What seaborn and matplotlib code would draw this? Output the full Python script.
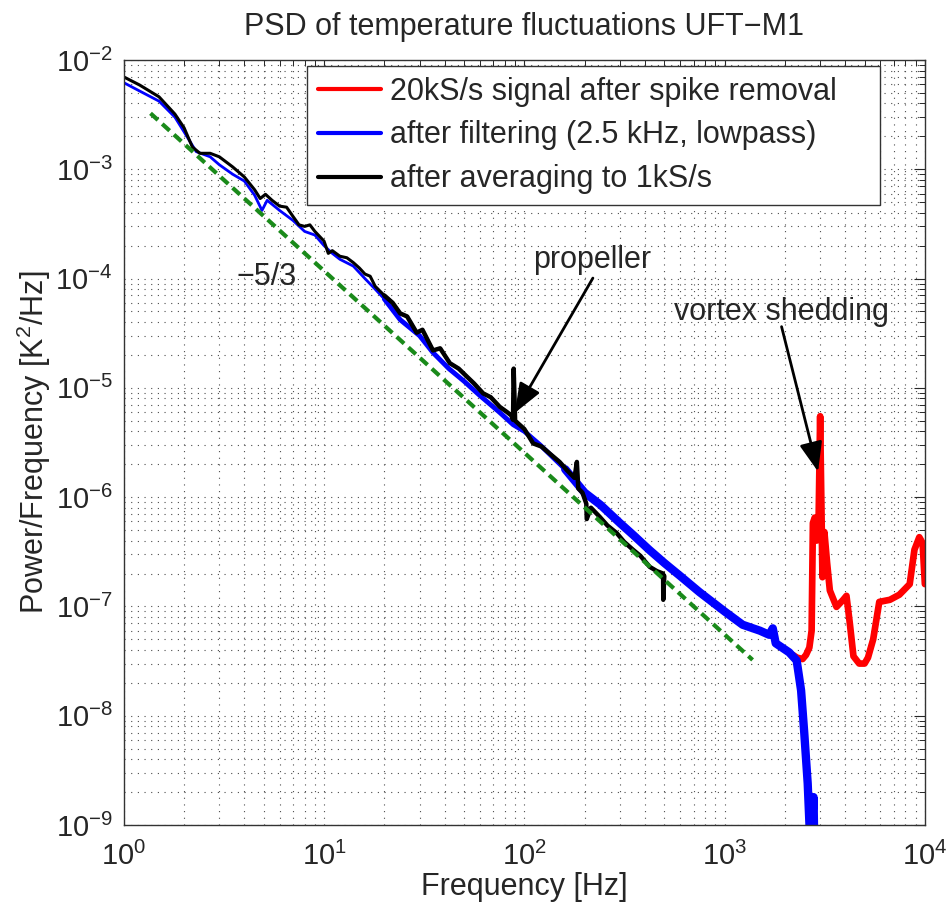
import matplotlib
matplotlib.use('Agg')
import matplotlib.pyplot as plt
import seaborn as sns
import pandas as pd

# spectra (freq in Hz, PSD in K^2/Hz)
f_avg = [1.0, 1.2, 1.5, 1.8, 2.0, 2.2, 2.4, 2.7, 3.0, 3.5, 4.0, 4.5, 4.8, 5.1, 5.5,
         6.0, 6.5, 7.0, 7.5, 8.0, 8.5, 9.0, 10, 10.5, 11, 12, 13, 14, 15, 16, 17, 18,
         20, 22, 24, 26, 29, 31, 35, 38, 42.5, 47, 51.6, 56, 62.3, 68, 75.4, 82, 86,
         87.8, 88.5, 90, 100, 110.7, 122, 134, 150, 163, 178, 183, 186, 195, 204, 205,
         215, 238, 260, 289, 315, 349, 380, 423, 460, 493, 494, 500]
p_avg = [7.0e-3, 5.9e-3, 4.6e-3, 3.2e-3, 2.4e-3, 1.6e-3, 1.4e-3, 1.4e-3, 1.3e-3,
         1.05e-3, 8.5e-4, 6.5e-4, 5.4e-4, 5.9e-4, 5.2e-4, 4.6e-4, 4.5e-4, 3.7e-4,
         3.1e-4, 3.0e-4, 3.1e-4, 2.7e-4, 2.2e-4, 1.7e-4, 1.8e-4, 1.6e-4, 1.55e-4,
         1.4e-4, 1.25e-4, 1.1e-4, 1.05e-4, 8.5e-5, 7.0e-5, 6.0e-5, 4.8e-5, 4.5e-5,
         3.2e-5, 3.4e-5, 2.2e-5, 2.3e-5, 1.68e-5, 1.5e-5, 1.27e-5, 1.1e-5, 8.9e-6,
         8.2e-6, 6.7e-6, 6.0e-6, 5.6e-6, 5.1e-6, 1.5e-5, 5.0e-6, 4.2e-6, 3.1e-6,
         2.9e-6, 2.5e-6, 2.1e-6, 1.77e-6, 1.5e-6, 2.1e-6, 1.2e-6, 1.1e-6, 8.7e-7,
         6.3e-7, 8.0e-7, 6.6e-7, 5.5e-7, 4.7e-7, 3.9e-7, 3.3e-7, 2.9e-7, 2.3e-7,
         2.1e-7, 2.0e-7, 1.15e-7, 1.9e-7]

f_filt = [1.0, 1.2, 1.5, 1.8, 2.0, 2.3, 2.7, 3.0, 3.5, 4.0, 4.5, 4.9, 5.2, 6.0, 7.0,
          8.0, 9.0, 10, 11, 12, 14, 16, 18, 20, 24, 30, 35, 42, 50, 60, 75, 88, 100,
          120, 160, 200, 240, 300, 350, 420, 500, 600, 750, 1000, 1230, 1500, 1670,
          1740, 1800, 2100, 2290, 2410, 2500, 2600, 2660, 2720, 2780, 2800, 2850]
p_filt = [6.2e-3, 5.2e-3, 4.2e-3, 3.0e-3, 2.2e-3, 1.45e-3, 1.3e-3, 1.1e-3, 9.0e-4,
          7.8e-4, 5.8e-4, 4.2e-4, 5.2e-4, 4.2e-4, 3.4e-4, 2.7e-4, 2.5e-4, 2.0e-4,
          1.7e-4, 1.5e-4, 1.3e-4, 1.0e-4, 8.0e-5, 6.5e-5, 4.2e-5, 3.0e-5, 2.1e-5,
          1.5e-5, 1.15e-5, 8.5e-6, 6.0e-6, 4.6e-6, 4.0e-6, 3.0e-6, 1.8e-6, 1.1e-6,
          8.5e-7, 5.8e-7, 4.5e-7, 3.3e-7, 2.5e-7, 1.9e-7, 1.35e-7, 9.0e-8, 6.8e-8,
          6.0e-8, 5.5e-8, 6.3e-8, 4.6e-8, 3.8e-8, 3.2e-8, 1.7e-8, 6.9e-9, 2.4e-9,
          9.0e-10, 8.0e-10, 1.8e-9, 8.0e-10, 7.0e-10]

f_raw = [2190, 2300, 2450, 2550, 2650, 2720, 2760, 2820, 2880, 2950, 3000, 3030,
         3080, 3150, 3250, 3354, 3620, 3910, 4060, 4220, 4400, 4700, 5000, 5200,
         5520, 5920, 6690, 7460, 8400, 8870, 9380, 9740, 10000]
p_raw = [3.6e-8, 3.4e-8, 3.3e-8, 3.6e-8, 4.2e-8, 6.0e-8, 5.8e-7, 6.5e-7, 4.0e-7,
         7.0e-7, 5.5e-6, 1.5e-6, 1.85e-7, 4.8e-7, 2.5e-7, 1.4e-7, 9.9e-8, 1.15e-7,
         1.25e-7, 7.0e-8, 3.5e-8, 3.0e-8, 3.0e-8, 3.4e-8, 5.0e-8, 1.1e-7, 1.15e-7,
         1.28e-7, 1.6e-7, 3.3e-7, 4.3e-7, 3.8e-7, 1.6e-7]

# -5/3 reference line, end points
f_ref = [1.36, 1380]
p_ref = [3.25e-3, 3.24e-8]

labels = ['20kS/s signal after spike removal',
          'after filtering (2.5 kHz, lowpass)',
          'after averaging to 1kS/s']

# annotations: (text, text pos, arrow tail, arrow tip)
notes = [('propeller', (217, 1.48e-4), (220, 1.01e-4), (89.7, 5.9e-6)),
         ('vortex shedding', (1930, 4.9e-5), (1925, 3.63e-5), (2930, 1.71e-6))]

sns.set_style('white')
plt.rcParams['font.family'] = ['Liberation Sans', 'DejaVu Sans']
plt.rcParams['mathtext.fontset'] = 'custom'
plt.rcParams['mathtext.rm'] = 'Liberation Sans'
plt.rcParams['mathtext.it'] = 'Liberation Sans'

FS = 22

fig = plt.figure(figsize=(9.52, 9.06), dpi=100)
ax = fig.add_axes([0.130, 0.0894, 0.8415, 0.8444])

raw = pd.DataFrame({'f': f_raw, 'p': p_raw})
filt = pd.DataFrame({'f': f_filt, 'p': p_filt})
avg = pd.DataFrame({'f': f_avg, 'p': p_avg})
ref = pd.DataFrame({'f': f_ref, 'p': p_ref})

kw = dict(ax=ax, x='f', y='p', sort=False, estimator=None)
sns.lineplot(data=raw, color='#ff0000', lw=4.8, label=labels[0], **kw)
sns.lineplot(data=filt, color='#0000ff', lw=2, label=labels[1], **kw)
# noisy upper part of the spectra looks much thicker
sns.lineplot(data=filt[filt.f >= 20], color='#0000ff', lw=3.5, legend=False, **kw)
sns.lineplot(data=filt[filt.f >= 150], color='#0000ff', lw=6, legend=False, **kw)
sns.lineplot(data=avg, color='black', lw=2.2, label=labels[2], **kw)
sns.lineplot(data=avg[avg.f >= 20], color='black', lw=3.2, legend=False, **kw)
sns.lineplot(data=ref, color='#1a8a1a', lw=3, linestyle=(0, (2.4, 1.4)),
             legend=False, **kw)

ax.set_xscale('log')
ax.set_yscale('log')
ax.set_xlim(1, 1e4)
ax.set_ylim(1e-9, 1e-2)

ax.grid(True, which='both', linestyle=(0, (1, 5)), color='0.3', lw=0.8)
ax.tick_params(which='both', direction='in', top=True, right=True,
               labelsize=21, colors='0.15')
ax.tick_params(which='major', length=8, width=0.8, pad=8)
ax.tick_params(which='minor', length=4.5, width=0.7)
ax.tick_params(axis='x', which='major', pad=12)
for s in ax.spines.values():
    s.set_color('0.2')
    s.set_linewidth(1)

ax.set_title('PSD of temperature fluctuations UFT\u2212M1', fontsize=FS, pad=18)
ax.set_xlabel('Frequency [Hz]', fontsize=FS, labelpad=1)
ax.set_ylabel('Power/Frequency [K$^2$/Hz]', fontsize=FS, labelpad=2)

ax.text(3.67, 1.03e-4, '\u22125/3', fontsize=FS, va='center', ha='left')

for txt, pos, tail, tip in notes:
    ax.text(pos[0], pos[1], txt, fontsize=FS, ha='center', va='center')
    ax.annotate('', xy=tip, xytext=tail,
                arrowprops=dict(arrowstyle='-|>,head_length=0.9,head_width=0.35',
                                color='black', lw=2, mutation_scale=20,
                                shrinkA=0, shrinkB=0))

leg = ax.legend(loc='upper left', bbox_to_anchor=(0.2285, 0.5, 0.7154, 0.4925),
                mode='expand', borderaxespad=0, fontsize=FS, handlelength=2.06,
                handletextpad=0.3, labelspacing=0.45, borderpad=0.36,
                frameon=True, fancybox=False, framealpha=1)
leg.get_frame().set_edgecolor('0.2')
leg.get_frame().set_linewidth(1)
for h in leg.get_lines():
    h.set_linewidth(3)

fig.savefig('out.png', dpi=100)
